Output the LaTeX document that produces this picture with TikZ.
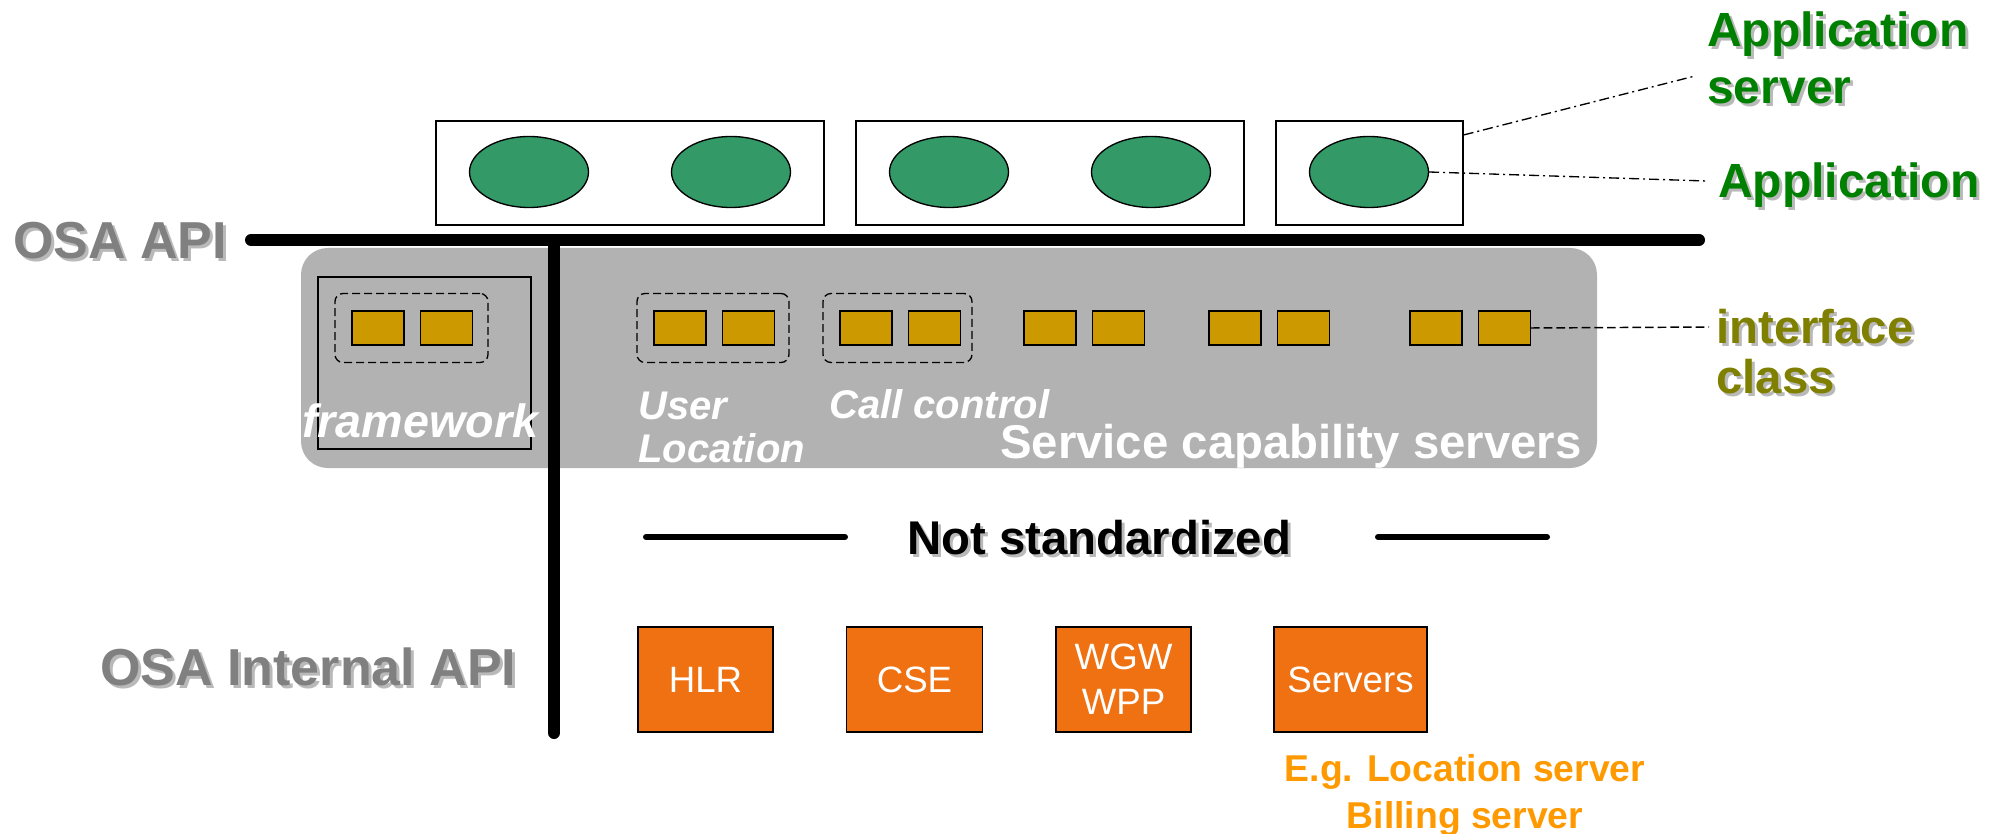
\documentclass[tikz,border=0pt]{standalone}
\usepackage{fontspec}
\setmainfont{Liberation Sans}
\usetikzlibrary{positioning}
\usetikzlibrary{shapes.geometric}

\definecolor{appgreen}{RGB}{51,153,102}
\definecolor{ifcgold}{RGB}{204,153,0}
\definecolor{regiongray}{RGB}{178,178,178}
\definecolor{boxorange}{RGB}{239,113,17}
\definecolor{noteorange}{RGB}{255,153,0}
\definecolor{lblgreen}{RGB}{0,128,0}
\definecolor{lblolive}{RGB}{128,128,0}
\definecolor{apigray}{RGB}{128,128,128}
\definecolor{shadowgray}{RGB}{185,185,185}

\tikzset{
  appsrv/.style={draw, line width=1pt, fill=white, minimum height=78pt, inner sep=0pt},
  app/.style={ellipse, draw, line width=1pt, fill=appgreen, minimum width=89.25pt, minimum height=53.25pt, inner sep=0pt},
  ifc/.style={draw, line width=1pt, fill=ifcgold, minimum width=39pt, minimum height=25.5pt, inner sep=0pt},
  grp/.style={draw, line width=1pt, dash pattern=on 6pt off 3pt, rounded corners=6pt, minimum height=51.75pt, inner sep=0pt},
  hw/.style={draw, line width=1pt, fill=boxorange, text=white, minimum width=101.25pt, minimum height=78.75pt, inner sep=0pt, align=center, font=\fontsize{27.5}{33.75}\selectfont},
  lbl/.style={inner sep=0pt},
  apitxt/.style={lbl, text=apigray, font=\fontsize{39}{47}\selectfont\bfseries},
  grntxt/.style={lbl, text=lblgreen, align=left, font=\fontsize{36}{43.2}\selectfont\bfseries},
  olvtxt/.style={lbl, text=lblolive, align=left, font=\fontsize{35.5}{37.5}\selectfont\bfseries},
  wtxt/.style={lbl, text=white, align=left, font=\fontsize{30}{32.25}\selectfont\bfseries\itshape},
  shade/.style={text=shadowgray},
  dashdot/.style={line width=1pt, dash pattern=on 7.5pt off 3pt on 1.5pt off 3pt},
  ifcdash/.style={line width=1.1pt, dash pattern=on 6.5pt off 3pt},
}

\begin{document}
\begin{tikzpicture}[x=0.75pt,y=0.75pt,yscale=-1,xscale=1]
\useasboundingbox (0,0) rectangle (2000,834);

%Shape: Rectangle [service region]
\fill[regiongray, rounded corners=20pt] (301,248) rectangle (1597,468);

%Shape: Rectangle [framework]
\node[draw, line width=1pt, minimum width=159.75pt, minimum height=129pt, inner sep=0pt] (fwbox) at (424.5,363) {};

%Straight Lines [OSA API]
\draw[line width=9pt, line cap=round] (251,240) -- (1699,240);
\draw[line width=9pt, line cap=round] (554,240) -- (554,733);

%Shape: Rectangle [application servers]
\node[appsrv, minimum width=291pt] (srv1) at (630,173) {};
\node[appsrv, minimum width=291pt] (srv2) at (1050,173) {};
\node[appsrv, minimum width=140.25pt] (srv3) at (1369.5,173) {};

%Shape: Ellipse [applications]
\foreach \i/\x in {1/529, 2/731, 3/949, 4/1151, 5/1369}
  \node[app] (app\i) at (\x,172) {};

%Shape: Rectangle [interface classes]
\foreach \n/\x in {fw/378, ul/680, cc/866, pd/1050, pe/1235, pf/1436} {
  \node[ifc] (\n1) at (\x,328) {};
  \node[ifc, right=11.25pt of \n1] (\n2) {};
}
\foreach \n/\x/\w in {fw/411.5/114.75, ul/713/114, cc/897.5/111.75}
  \node[grp, minimum width=\w pt] (\n grp) at (\x,328) {};

%Shape: Rectangle [network elements]
\node[hw] (hlr) at (705.5,679.5) {HLR};
\node[hw, minimum width=102pt] (cse) at (914.5,679.5) {CSE};
\node[hw] (wgw) at (1123.5,679.5) {WGW\\WPP};
\node[hw, minimum width=114.75pt] (srvs) at (1350.5,679.5) {Servers};

%Straight Lines [not standardized]
\draw[line width=4.5pt, line cap=round] (646,537) -- (845,537);
\draw[line width=4.5pt, line cap=round] (1378,537) -- (1547,537);

% Text Node
\node[apitxt, shade, anchor=base west] (osaapi-sh) at (16,262) {OSA API};
\node[apitxt, anchor=base west] (osaapi) at (13,259) {OSA API};
% Text Node
\node[apitxt, shade, anchor=base west] (intapi-sh) at (103,688) {OSA Internal API};
\node[apitxt, anchor=base west] (intapi) at (100,685) {OSA Internal API};
% Text Node
\node[grntxt, shade, anchor=north west] (appsrvlbl-sh) at (1710,14) {Application\\server};
\node[grntxt, anchor=north west] (appsrvlbl) at (1707,11) {Application\\server};
% Text Node
\node[grntxt, shade, anchor=base west] (applbl-sh) at (1721,201) {Application};
\node[grntxt, anchor=base west] (applbl) at (1718,198) {Application};
% Text Node
\node[olvtxt, shade, anchor=north west] (ifclbl-sh) at (1719,311.5) {interface\\class};
\node[olvtxt, anchor=north west] (ifclbl) at (1716,308.5) {interface\\class};
% Text Node
\node[lbl, shade, anchor=base west, font=\fontsize{35.5}{42}\selectfont\bfseries] (nstd-sh) at (910,557) {Not standardized};
\node[lbl, anchor=base west, font=\fontsize{35.5}{42}\selectfont\bfseries] (nstd) at (907,554) {Not standardized};
% Text Node
\node[wtxt, anchor=base west, font=\fontsize{35}{42}\selectfont\bfseries\itshape] (fwlbl) at (302,437) {framework};
\node[wtxt, anchor=north west] (ullbl) at (638,391.5) {User\\Location};
\node[wtxt, anchor=base west] (cclbl) at (829,418) {Call control};
\node[lbl, text=white, anchor=base east, font=\fontsize{35.5}{42}\selectfont\bfseries] (scslbl) at (1582,458) {Service capability servers};
% Text Node
\node[lbl, text=noteorange, align=center, anchor=north, font=\fontsize{28}{35.25}\selectfont\bfseries] (eglbl) at (1465,754) {E.g. Location server\\Billing server};

% Leader lines
\coordinate (appsrv-tip) at (1695,76);
\coordinate (app-tip) at (1706,181);
\coordinate (ifc-tip) at (1709,327);
\draw[dashdot] (srv3.22) -- (appsrv-tip);
\draw[dashdot] (app5.east) -- (app-tip);
\draw[ifcdash] (pf2.east) -- (ifc-tip);

\end{tikzpicture}
\end{document}
